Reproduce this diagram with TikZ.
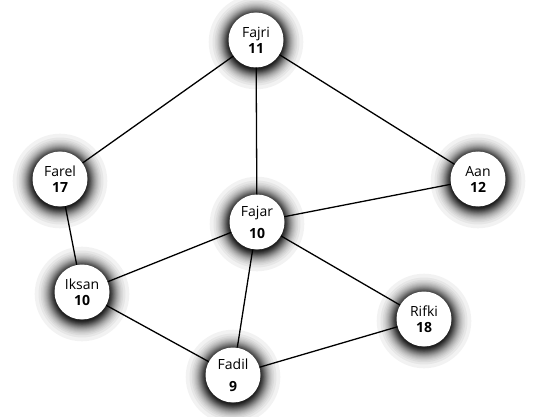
\documentclass[tikz,border=0pt]{standalone}
\usepackage{fontspec}
\setmainfont{Open Sans}
\begin{document}
\begin{tikzpicture}[x=1pt,y=-1pt,
    person/.style={circle, fill=white, minimum size=55pt, inner sep=0pt, align=center,
      font=\fontsize{14}{16}\selectfont},
    link/.style={line width=1.3pt}]
  \useasboundingbox (0,0) rectangle (533,417);
  \foreach \who/\x/\y/\score/\gap in {Fajri/256/40/11/0, Farel/60/179/17/0,
      Aan/478/179/12/0, Fajar/257/222/10/6, Iksan/82/292/10/0,
      Rifki/424/319/18/0, Fadil/233/375/9/6} {
    % soft glow behind each person
    \foreach \k in {1,...,40}
      \fill[black, opacity=0.05] (\x,\y+2) circle [radius={(27+5.5*ln(40/\k))*1pt}];
    \node[person] (\who) at (\x,\y) {\who\\[\gap pt]\textbf{\score}};
  }
  \draw[link] (Fajri) -- (Farel);
  \draw[link] (Fajri) -- (Fajar);
  \draw[link] (Fajri) -- (Aan);
  \draw[link] (Farel) -- (Iksan);
  \draw[link] (Fajar) -- (Aan);
  \draw[link] (Fajar) -- (Iksan);
  \draw[link] (Fajar) -- (Fadil);
  \draw[link] (Fajar) -- (Rifki);
  \draw[link] (Iksan) -- (Fadil);
  \draw[link] (Fadil) -- (Rifki);
\end{tikzpicture}
\end{document}
